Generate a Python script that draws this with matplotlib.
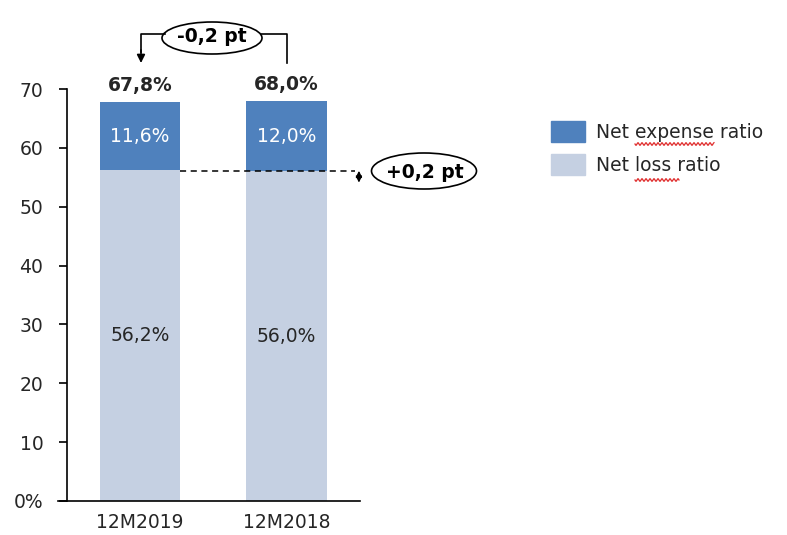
import matplotlib.pyplot as plt
import numpy as np
from matplotlib.patches import Ellipse, Patch

plt.rcParams['font.family'] = ['DejaVu Sans']

# data
periods = ["12M2019", "12M2018"]
loss_ratio = [56.2, 56.0]
expense_ratio = [11.6, 12.0]
combined = [67.8, 68.0]
loss_labels = ["56,2%", "56,0%"]
expense_labels = ["11,6%", "12,0%"]
total_labels = ["67,8%", "68,0%"]
yticks = [0, 10, 20, 30, 40, 50, 60, 70]
ytick_labels = ["0%", "10", "20", "30", "40", "50", "60", "70"]

C_EXP = "#4F81BD"
C_LOSS = "#C5D0E2"
TXT = "#262626"
FS = 13.5

fig = plt.figure(figsize=(7.87, 5.35), dpi=100)
ax = fig.add_axes([0.085, 0.0636, 0.372, 0.770])

x = np.arange(len(periods))
w = 0.548
ax.bar(x, loss_ratio, w, color=C_LOSS, label="Net loss ratio")
ax.bar(x, expense_ratio, w, bottom=loss_ratio, color=C_EXP, label="Net expense ratio")

for i in x:
    ax.text(i, loss_ratio[i] / 2, loss_labels[i], ha="center", va="center",
            fontsize=FS, color=TXT)
    ax.text(i, loss_ratio[i] + expense_ratio[i] / 2, expense_labels[i],
            ha="center", va="center", fontsize=FS, color="white")
    ax.text(i, combined[i] + 1.1, total_labels[i], ha="center", va="bottom",
            fontsize=FS, fontweight="bold", color=TXT)

ax.set_xlim(-0.5, 1.5)
ax.set_ylim(0, 70)
ax.set_yticks(yticks)
ax.set_yticklabels(ytick_labels, fontsize=FS, color=TXT)
ax.set_xticks(x)
ax.set_xticklabels(periods, fontsize=FS, color=TXT)
ax.tick_params(axis="x", length=0, pad=9)
ax.tick_params(axis="y", length=6, width=1.2, direction="out", pad=11)
for s in ["top", "right"]:
    ax.spines[s].set_visible(False)
ax.spines["left"].set_linewidth(1.2)
ax.spines["bottom"].set_linewidth(1.2)
ax.spines["bottom"].set_bounds(-0.56, 1.5)

# dashed line between loss ratios, with small double arrow
ax.plot([0 + w / 2, 1.47], [loss_ratio[1], loss_ratio[1]], color="black",
        lw=1.1, ls=(0, (4, 3)), clip_on=False)
ax.annotate("", xy=(1.495, loss_ratio[1] + 0.1), xytext=(1.495, loss_ratio[1] - 1.9),
            arrowprops=dict(arrowstyle="<|-|>", color="black", lw=1.0,
                            mutation_scale=9, shrinkA=0, shrinkB=0),
            annotation_clip=False)

# ellipse labels in figure coordinates
fx = lambda px: px / 787
fy = lambda py: 1 - py / 535

e1 = Ellipse((fx(424), fy(171)), 105 / 787, 36 / 535, transform=fig.transFigure,
             facecolor="white", edgecolor="black", lw=1.2)
fig.add_artist(e1)
fig.text(fx(425), fy(172), "+0,2 pt", ha="center", va="center", fontsize=FS,
         fontweight="bold", color="black")

e2 = Ellipse((fx(212), fy(38)), 100 / 787, 32 / 535, transform=fig.transFigure,
             facecolor="white", edgecolor="black", lw=1.2)
fig.add_artist(e2)
fig.text(fx(212), fy(37), "-0,2 pt", ha="center", va="center", fontsize=FS,
         fontweight="bold", color="black")

# connector lines for top ellipse
fig.add_artist(plt.Line2D([fx(261), fx(287), fx(287)], [fy(34), fy(34), fy(63)],
                          transform=fig.transFigure, color="black", lw=1.2))
fig.add_artist(plt.Line2D([fx(165), fx(141), fx(141)], [fy(34), fy(34), fy(52)],
                          transform=fig.transFigure, color="black", lw=1.2))
ax.annotate("", xy=(fx(141), fy(63)), xytext=(fx(141), fy(50)),
            xycoords=fig.transFigure, textcoords=fig.transFigure,
            arrowprops=dict(arrowstyle="-|>", color="black", lw=1.2,
                            mutation_scale=12, shrinkA=0, shrinkB=0))

handles = [Patch(color=C_EXP, label="Net expense ratio"),
           Patch(color=C_LOSS, label="Net loss ratio")]
fig.legend(handles=handles, loc="upper left", bbox_to_anchor=(fx(534), fy(104)),
           frameon=False, fontsize=FS, handlelength=1.8, handleheight=1.38,
           labelspacing=0.62, handletextpad=0.6, labelcolor=TXT)

# spell-check squiggles under "expense" and "loss"
for x0, x1, yy in [(635, 714, 144), (635, 679, 180)]:
    xs = np.arange(x0, x1 + 0.5, 0.5)
    ys = yy + 1.3 * np.sin((xs - x0) * np.pi / 2)
    fig.add_artist(plt.Line2D(xs / 787, 1 - ys / 535, transform=fig.transFigure,
                              color="#E03030", lw=0.9))

fig.savefig("out.png", dpi=100)
